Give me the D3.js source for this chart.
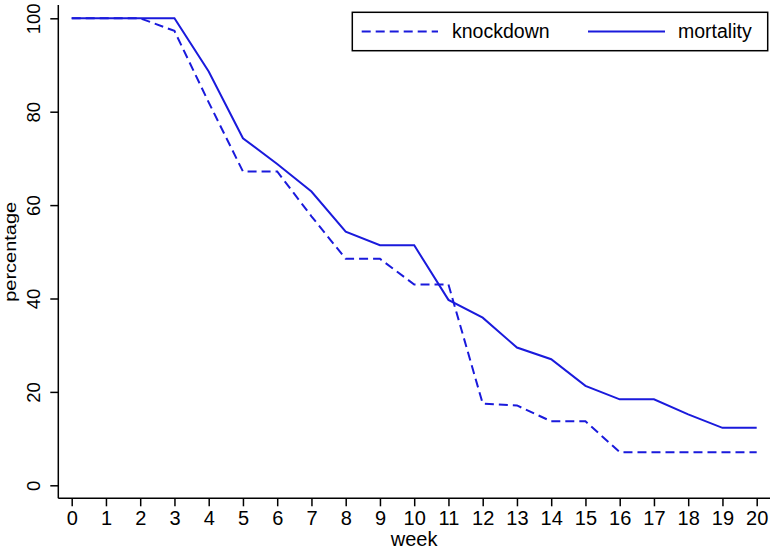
<!DOCTYPE html>
<html>
<head>
<meta charset="utf-8">
<script src="https://cdn.jsdelivr.net/npm/d3@7"></script>
<style>
  body { margin: 0; background: #fff; }
  svg { display: block; font-family: "Liberation Sans", Arial, Helvetica, sans-serif; }
</style>
</head>
<body>
<svg id="chart" width="777" height="551"></svg>
<script>
const weeks = [0,1,2,3,4,5,6,7,8,9,10,11,12,13,14,15,16,17,18,19,20];
const knockdown = [100,100,100,97.3,82,67.2,67.2,57.6,48.5,48.5,43,43,17.5,17.1,13.7,13.7,7.1,7.1,7.1,7.1,7.1];
const mortality = [100,100,100,100,88.6,74.3,68.8,62.9,54.3,51.4,51.4,39.7,35.9,29.5,27,21.3,18.4,18.4,15.2,12.3,12.3];
const yTicks = [0,20,40,60,80,100];
const seriesNames = ["knockdown","mortality"];

const svg = d3.select("#chart");
const color = "#1a1adc";

const x = d3.scaleLinear().domain([0, 20]).range([71.7, 756.7]);
const y = d3.scaleLinear().domain([0, 100]).range([485.3, 18.3]);

const axisX = 58.3, axisY = 498.3;

// X axis
const gx = svg.append("g").attr("transform", `translate(0,${axisY})`)
  .call(d3.axisBottom(x).tickValues(weeks).tickFormat(d3.format("d")).tickSizeOuter(0).tickSize(8).tickPadding(5));
gx.select(".domain").remove();
gx.selectAll(".tick line").attr("stroke", "#000").attr("stroke-width", 1.5);
gx.selectAll(".tick text").attr("font-size", 20).attr("fill", "#000").attr("font-family", null);
svg.append("line").attr("x1", axisX).attr("x2", 770).attr("y1", axisY).attr("y2", axisY)
  .attr("stroke", "#000").attr("stroke-width", 1.5);

// Y axis
const gy = svg.append("g").attr("transform", `translate(${axisX},0)`)
  .call(d3.axisLeft(y).tickValues(yTicks).tickFormat(d3.format("d")).tickSizeOuter(0).tickSize(8));
gy.select(".domain").remove();
gy.selectAll(".tick line").attr("stroke", "#000").attr("stroke-width", 1.5);
gy.selectAll(".tick text")
  .attr("font-size", 18.5).attr("fill", "#000").attr("font-family", null)
  .attr("x", null).attr("dy", null)
  .attr("text-anchor", "middle")
  .attr("transform", "translate(-18,0) rotate(-90)");
svg.append("line").attr("x1", axisX).attr("x2", axisX).attr("y1", 5).attr("y2", axisY)
  .attr("stroke", "#000").attr("stroke-width", 1.5);

// Axis titles
svg.append("text").attr("x", (axisX + 770) / 2).attr("y", 546).attr("text-anchor", "middle")
  .attr("font-size", 20).text("week");
svg.append("text").attr("transform", `translate(16,${(y(0) + y(100)) / 2}) rotate(-90) scale(1,0.8)`)
  .attr("text-anchor", "middle").attr("font-size", 20).text("percentage");

// Lines
const line = d3.line().x((d, i) => x(weeks[i])).y(d => y(d));
svg.append("path").datum(knockdown).attr("d", line).attr("fill", "none")
  .attr("stroke", color).attr("stroke-width", 2).attr("stroke-dasharray", "9,5");
svg.append("path").datum(mortality).attr("d", line).attr("fill", "none")
  .attr("stroke", color).attr("stroke-width", 2);

// Legend
const lg = svg.append("g");
lg.append("rect").attr("x", 352.3).attr("y", 12.3).attr("width", 415.4).attr("height", 38.4)
  .attr("fill", "#fff").attr("stroke", "#000").attr("stroke-width", 1.5);
lg.append("line").attr("x1", 361.7).attr("x2", 438).attr("y1", 31.5).attr("y2", 31.5)
  .attr("stroke", color).attr("stroke-width", 2).attr("stroke-dasharray", "9,5");
lg.append("line").attr("x1", 588).attr("x2", 665).attr("y1", 31.5).attr("y2", 31.5)
  .attr("stroke", color).attr("stroke-width", 2);
lg.append("text").attr("x", 452).attr("y", 38.3).attr("font-size", 19.5).text(seriesNames[0]);
lg.append("text").attr("x", 678).attr("y", 38.3).attr("font-size", 19.5).text(seriesNames[1]);
</script>
</body>
</html>
